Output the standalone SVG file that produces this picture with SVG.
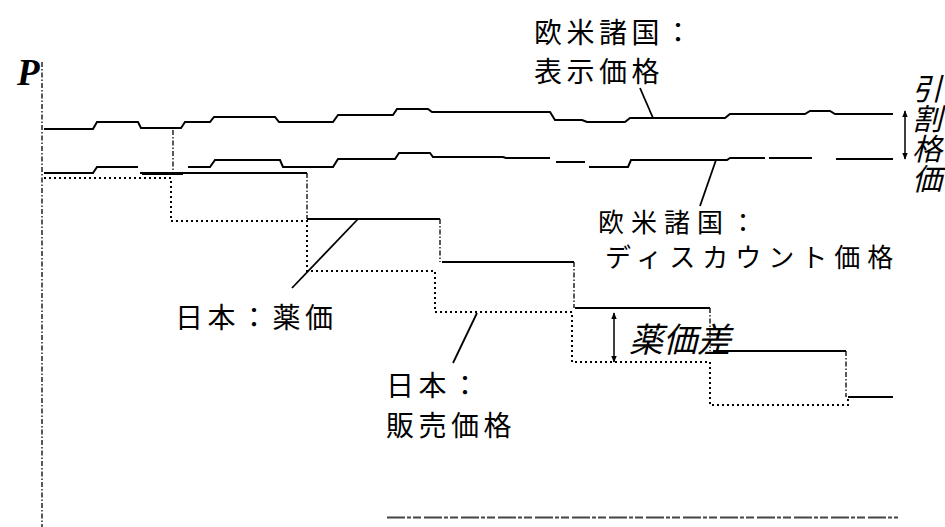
<svg xmlns="http://www.w3.org/2000/svg" width="945" height="527" viewBox="0 0 945 527">
<defs>
<marker id="ah" viewBox="0 0 10 10" refX="9" refY="5" markerWidth="7" markerHeight="7" orient="auto-start-reverse" markerUnits="userSpaceOnUse">
<path d="M0,1 L10,5 L0,9 Z" fill="#000"/>
</marker>
</defs>
<style>
.lbl{font-family:"Noto Sans CJK JP","Noto Sans CJK SC",sans-serif;font-size:28px;fill:#000;letter-spacing:4.5px}
.lbl2{font-family:"Noto Sans CJK JP","Noto Sans CJK SC",sans-serif;font-size:26px;fill:#000;letter-spacing:7px}
.ital{font-family:"Noto Sans CJK JP","Noto Sans CJK SC",sans-serif;fill:#000;font-style:italic}
.solid{fill:none;stroke:#000;stroke-width:2}
.vdash{fill:none;stroke:#000;stroke-width:1.3;stroke-dasharray:5 2 1.5 2}
.dot{fill:none;stroke:#000;stroke-width:2;stroke-dasharray:2 3}
.lead{fill:none;stroke:#000;stroke-width:1.8}
.arr{fill:none;stroke:#000;stroke-width:1.5;marker-start:url(#ah);marker-end:url(#ah)}
</style>
<rect width="945" height="527" fill="#fff"/>
<g id="axis">
<line x1="42" y1="62" x2="42" y2="527" class="vdash" stroke-width="1.6"/>
<text x="17" y="85" font-family="Liberation Serif, serif" font-size="37" font-weight="bold" font-style="italic">P</text>
<line x1="387" y1="517.5" x2="898" y2="517.5" stroke="#444" stroke-width="2" stroke-dasharray="18 2 4 2 8 3"/>
</g>
<g id="connectors">
<path id="list-price" class="solid" d="M44,129 H93 L97,122 H138 L141,128 H181 L185,122 H210 L214,117 H275 L279,122 H333 L338,115 H393 L397,109 H428 L432,112 H550 L555,120 H582 L587,122 H625 L630,118 H725 L730,114 H805 L810,111 H830 L835,114 H893"/>
<line x1="173" y1="130" x2="173" y2="172" class="vdash"/>
<path id="discount-price" class="solid" d="M44,173 H93 L97,167 H138 M142,174 H183 M188,167 H210 L215,160 H280 L283,167 H333 L338,159 H395 L399,153 H430 L433,157 H503 L506,158 H550 M556,162 H585 M589,167 H628 L631,160 H727 L730,158 H765 M769,158 H812 M836,159 H893"/>
<path id="jp-price" class="solid" d="M140,173 H307 M307,219 H440 M442,262 H574 M575,308 H710 M713,351 H846 M848,397 H893"/>
<path class="vdash" d="M307,173 V219 M440,219 V262 M574,262 V308 M710,308 V351 M846,351 V397"/>
<path id="jp-sales" class="dot" d="M44,178 H171 V221 H307 V271 H435 V312 H572 V362 H710 V405 H848 V397"/>
<line class="lead" x1="640" y1="88" x2="653" y2="118"/>
<line class="lead" x1="716" y1="160" x2="700" y2="206"/>
<line class="lead" x1="358" y1="219" x2="292" y2="288"/>
<line class="lead" x1="477" y1="313" x2="453" y2="363"/>
<line class="arr" x1="905" y1="111" x2="905" y2="159"/>
<line class="arr" x1="614" y1="313" x2="614" y2="362"/>
</g>
<g id="label-list">
<text class="lbl"><tspan x="534" y="43">欧米諸国：</tspan><tspan x="534" y="82">表示価格</tspan></text>
</g>
<g id="label-discount">
<text class="lbl2"><tspan x="598" y="232">欧米諸国：</tspan><tspan x="605" y="267">ディスカウント価格</tspan></text>
</g>
<g id="label-jp-price">
<text class="lbl" x="175" y="328">日本：薬価</text>
</g>
<g id="label-jp-sales">
<text class="lbl"><tspan x="386" y="396">日本：</tspan><tspan x="386" y="436">販売価格</tspan></text>
</g>
<g id="label-diff">
<text class="ital" x="629" y="352" font-size="34">薬価差</text>
</g>
<g id="label-discount-rate">
<text class="ital" font-size="30" x="912 912 912 912" y="190 160 130 100">価格割引</text>
</g>
</svg>
